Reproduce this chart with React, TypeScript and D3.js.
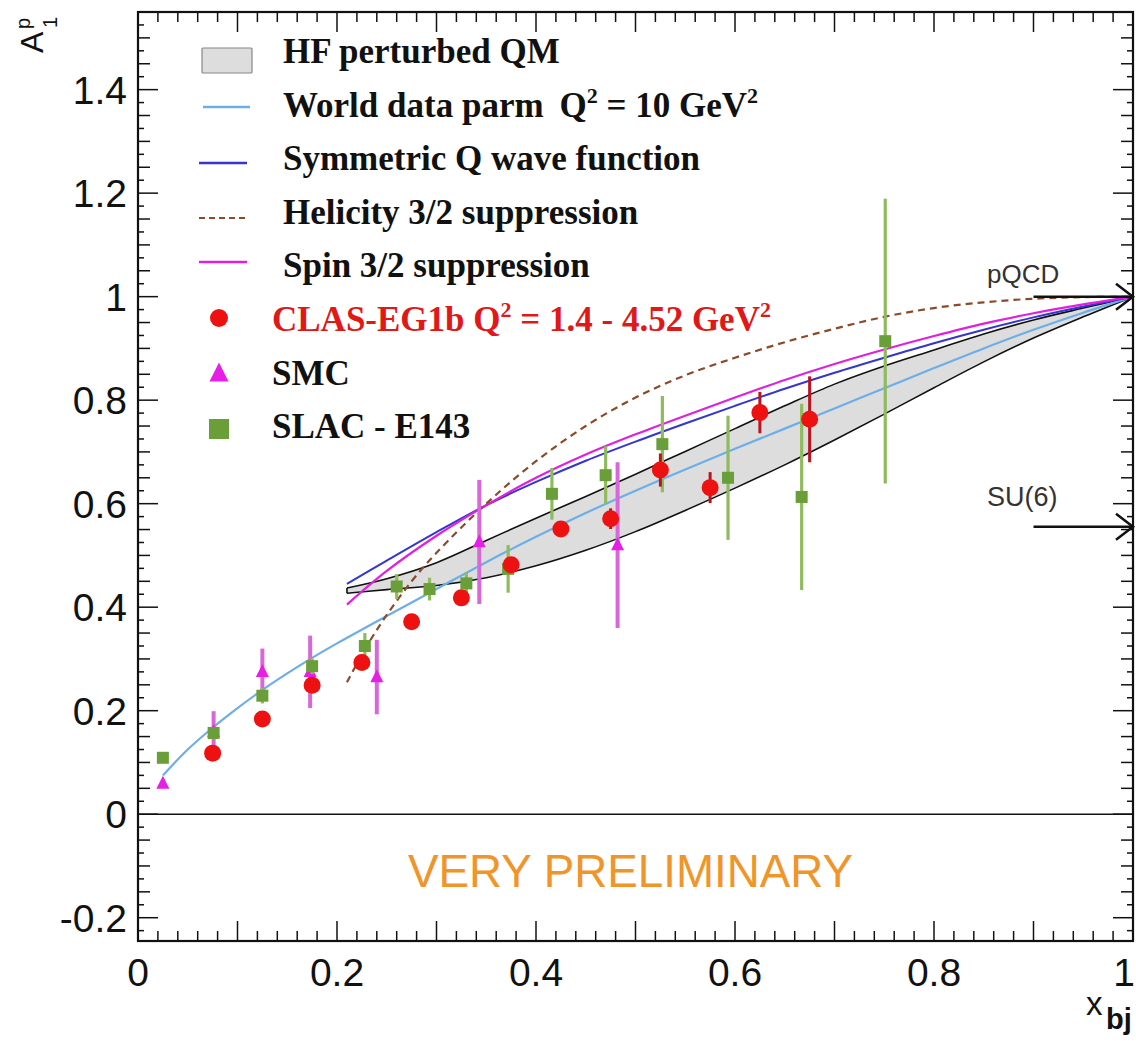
import React from "react";
import * as d3 from "d3";

// ---------- data ----------
const clasX = [0.075, 0.125, 0.175, 0.225, 0.275, 0.325, 0.375, 0.425, 0.475, 0.525, 0.575, 0.625, 0.675];
const clasY = [0.118, 0.184, 0.249, 0.293, 0.372, 0.418, 0.482, 0.551, 0.571, 0.665, 0.631, 0.776, 0.763];
const clasErr = [0.008, 0.008, 0.008, 0.01, 0.01, 0.01, 0.012, 0.015, 0.02, 0.032, 0.03, 0.04, 0.083];

const smcX = [0.025, 0.076, 0.125, 0.173, 0.24, 0.343, 0.482];
const smcY = [0.059, 0.159, 0.275, 0.275, 0.265, 0.526, 0.52];
const smcErr = [0.008, 0.04, 0.045, 0.07, 0.072, 0.12, 0.16];

const slacX = [0.025, 0.076, 0.125, 0.175, 0.228, 0.26, 0.293, 0.33, 0.372, 0.416, 0.47, 0.527, 0.593, 0.667, 0.751];
const slacY = [0.109, 0.157, 0.229, 0.286, 0.325, 0.44, 0.435, 0.446, 0.474, 0.619, 0.655, 0.715, 0.65, 0.613, 0.914];
const slacErr = [0.008, 0.01, 0.015, 0.015, 0.025, 0.024, 0.022, 0.022, 0.046, 0.05, 0.056, 0.093, 0.12, 0.18, 0.275];

const worldX = [0.025, 0.05, 0.075, 0.1, 0.125, 0.15, 0.175, 0.2, 0.25, 0.3, 0.35, 0.4, 0.45, 0.5, 0.55, 0.6, 0.65, 0.7, 0.75, 0.8, 0.85, 0.9, 0.95, 1.0];
const worldY = [0.075, 0.125, 0.167, 0.205, 0.24, 0.272, 0.302, 0.33, 0.383, 0.435, 0.487, 0.536, 0.582, 0.625, 0.666, 0.706, 0.745, 0.784, 0.823, 0.862, 0.9, 0.936, 0.969, 1.0];

const modelX = [0.21, 0.25, 0.3, 0.35, 0.4, 0.45, 0.5, 0.55, 0.6, 0.65, 0.7, 0.75, 0.8, 0.85, 0.9, 0.95, 1.0];
const bandHigh = [0.437, 0.455, 0.486, 0.529, 0.572, 0.614, 0.657, 0.701, 0.745, 0.789, 0.831, 0.866, 0.897, 0.928, 0.955, 0.978, 1.0];
const bandLow = [0.427, 0.434, 0.442, 0.457, 0.48, 0.51, 0.546, 0.587, 0.63, 0.675, 0.723, 0.773, 0.824, 0.874, 0.92, 0.961, 1.0];
const symY = [0.445, 0.49, 0.545, 0.597, 0.642, 0.683, 0.72, 0.755, 0.789, 0.822, 0.853, 0.882, 0.91, 0.936, 0.96, 0.981, 1.0];
const spinY = [0.405, 0.47, 0.538, 0.597, 0.65, 0.695, 0.734, 0.77, 0.805, 0.839, 0.87, 0.898, 0.924, 0.948, 0.968, 0.985, 1.0];

const heliX = [0.21, 0.23, 0.25, 0.275, 0.3, 0.35, 0.4, 0.45, 0.5, 0.55, 0.6, 0.65, 0.7, 0.75, 0.8, 0.85, 0.9, 0.95, 1.0];
const heliY = [0.255, 0.325, 0.385, 0.45, 0.505, 0.6, 0.682, 0.75, 0.805, 0.848, 0.882, 0.912, 0.938, 0.961, 0.978, 0.989, 0.996, 0.999, 1.0];

const pqcdValue = 1.0;
const su6Value = 5 / 9;
const arrowStartX = 0.9;

const xTickLabels = [0, 0.2, 0.4, 0.6, 0.8, 1];
const yTickLabels = [-0.2, 0, 0.2, 0.4, 0.6, 0.8, 1, 1.2, 1.4];

// ---------- colours ----------
const C_WORLD = "#6eaee8";
const C_SYM = "#3535d0";
const C_SPIN = "#e020e0";
const C_HELI = "#8b4a2a";
const C_CLAS = "#ee1111";
const C_CLAS_ERR = "#b81520";
const C_SMC = "#e61ee6";
const C_SMC_ERR = "#d868d8";
const C_SLAC = "#6a9e38";
const C_SLAC_ERR = "#8fbb5c";

const W = 1136;
const H = 1041;

const xScale = d3.scaleLinear().domain([0, 1]).range([138, 1133]);
const yScale = d3.scaleLinear().domain([-0.245, 1.55]).range([941, 12]);

const fmt = (v: number) => String(Math.round(v * 10) / 10);

export default function App() {
  const line = d3
    .line<[number, number]>()
    .x((d) => xScale(d[0]))
    .y((d) => yScale(d[1]))
    .curve(d3.curveCatmullRom.alpha(0.5));
  const area = d3
    .area<number>()
    .x((_, i) => xScale(modelX[i]))
    .y0((_, i) => yScale(bandLow[i]))
    .y1((_, i) => yScale(bandHigh[i]))
    .curve(d3.curveCatmullRom.alpha(0.5));

  const zip = (xs: number[], ys: number[]) => xs.map((x, i) => [x, ys[i]] as [number, number]);

  const left = xScale(0), right = xScale(1), top = yScale(1.55), bottom = yScale(-0.245);

  const xTicks = d3.range(0, 51).map((i) => i / 50);
  const yTicks = d3.range(-9, 63).map((i) => i / 40).filter((v) => v > -0.245 && v < 1.55);
  const isMult = (v: number, step: number) => Math.abs(v / step - Math.round(v / step)) < 1e-6;

  const legendBase = (i: number) => 63 + 53.6 * i;
  const serif = "'Liberation Serif', 'Times New Roman', serif";
  const sans = "'Liberation Sans', Arial, Helvetica, sans-serif";

  const arrow = (v: number, key: string) => {
    const y = yScale(v);
    const x0 = xScale(arrowStartX);
    const x1 = xScale(1);
    return (
      <g key={key} stroke="#111" strokeWidth={2.5} fill="none">
        <line x1={x0} y1={y} x2={x1} y2={y} />
        <polyline points={`${x1 - 17},${y - 13} ${x1},${y} ${x1 - 17},${y + 13}`} />
      </g>
    );
  };

  const tri = (cx: number, cy: number, s: number) =>
    `${cx},${cy - s * 0.6} ${cx - s / 2},${cy + s * 0.4} ${cx + s / 2},${cy + s * 0.4}`;

  return (
    <svg
      width={W}
      height={H}
      style={{ position: "absolute", left: 0, top: 0, background: "#fff" }}
      xmlns="http://www.w3.org/2000/svg"
    >
      <rect x={0} y={0} width={W} height={H} fill="#fff" />

      {/* HF band */}
      <path d={area(modelX) || ""} fill="#dddddd" stroke="none" />
      <path d={line(zip(modelX, bandHigh)) || ""} fill="none" stroke="#111" strokeWidth={1.6} />
      <path d={line(zip(modelX, bandLow)) || ""} fill="none" stroke="#111" strokeWidth={1.6} />
      <line x1={xScale(modelX[0])} x2={xScale(modelX[0])} y1={yScale(bandHigh[0])} y2={yScale(bandLow[0])} stroke="#111" strokeWidth={1.6} />

      {/* model curves */}
      <path d={line(zip(worldX, worldY)) || ""} fill="none" stroke={C_WORLD} strokeWidth={2.2} />
      <path d={line(zip(modelX, symY)) || ""} fill="none" stroke={C_SYM} strokeWidth={2} />
      <path d={line(zip(modelX, spinY)) || ""} fill="none" stroke={C_SPIN} strokeWidth={2.2} />
      <path d={line(zip(heliX, heliY)) || ""} fill="none" stroke={C_HELI} strokeWidth={2.2} strokeDasharray="7 5" />

      {/* zero line */}
      <line x1={left} x2={right} y1={yScale(0)} y2={yScale(0)} stroke="#111" strokeWidth={1.6} />

      {/* SMC */}
      {smcX.map((x, i) => (
        <g key={"smc" + i}>
          <line x1={xScale(x)} x2={xScale(x)} y1={yScale(smcY[i] - smcErr[i])} y2={yScale(smcY[i] + smcErr[i])} stroke={C_SMC_ERR} strokeWidth={4} />
          <polygon points={tri(xScale(x), yScale(smcY[i]), 13)} fill={C_SMC} />
        </g>
      ))}
      {/* SLAC */}
      {slacX.map((x, i) => (
        <g key={"slac" + i}>
          <line x1={xScale(x)} x2={xScale(x)} y1={yScale(slacY[i] - slacErr[i])} y2={yScale(slacY[i] + slacErr[i])} stroke={C_SLAC_ERR} strokeWidth={3.2} />
          <rect x={xScale(x) - 6} y={yScale(slacY[i]) - 6} width={12} height={12} fill={C_SLAC} />
        </g>
      ))}
      {/* CLAS */}
      {clasX.map((x, i) => (
        <g key={"clas" + i}>
          <line x1={xScale(x)} x2={xScale(x)} y1={yScale(clasY[i] - clasErr[i])} y2={yScale(clasY[i] + clasErr[i])} stroke={C_CLAS_ERR} strokeWidth={3} />
          <circle cx={xScale(x)} cy={yScale(clasY[i])} r={8.5} fill={C_CLAS} />
        </g>
      ))}

      {/* arrows */}
      {arrow(pqcdValue, "pqcd")}
      {arrow(su6Value, "su6")}
      <text x={987} y={283} fontFamily={sans} fontSize={26} fill="#333">pQCD</text>
      <text x={987} y={506} fontFamily={sans} fontSize={27} fill="#333">SU(6)</text>

      {/* VERY PRELIMINARY */}
      <text x={408} y={887} fontFamily={sans} fontSize={47} fill="#f0952a" textLength={445} lengthAdjust="spacingAndGlyphs">
        VERY PRELIMINARY
      </text>

      {/* frame */}
      <rect x={left} y={top} width={right - left} height={bottom - top} fill="none" stroke="#111" strokeWidth={2.2} />

      {/* x ticks */}
      {xTicks.map((v, i) => {
        const len = isMult(v, 0.1) ? 20 : 10;
        const x = xScale(v);
        return (
          <g key={"xt" + i} stroke="#111" strokeWidth={1.5}>
            <line x1={x} x2={x} y1={bottom} y2={bottom - len} />
            <line x1={x} x2={x} y1={top} y2={top + len} />
          </g>
        );
      })}
      {/* y ticks */}
      {yTicks.map((v, i) => {
        const len = isMult(v, 0.2) ? 20 : isMult(v, 0.05) ? 12 : 6;
        const y = yScale(v);
        return (
          <g key={"yt" + i} stroke="#111" strokeWidth={1.5}>
            <line x1={left} x2={left + len} y1={y} y2={y} />
            <line x1={right} x2={right - len} y1={y} y2={y} />
          </g>
        );
      })}
      {/* tick labels */}
      {xTickLabels.map((v) => {
        const atEnd = v === 1;
        return (
          <text
            key={"xl" + v}
            x={atEnd ? W - 1 : xScale(v)}
            y={986}
            textAnchor={atEnd ? "end" : "middle"}
            fontFamily={sans}
            fontSize={39}
            fill="#111"
          >
            {fmt(v)}
          </text>
        );
      })}
      {yTickLabels.map((v) => (
        <text key={"yl" + v} x={127} y={yScale(v) + 14} textAnchor="end" fontFamily={sans} fontSize={39} fill="#111">
          {fmt(v)}
        </text>
      ))}

      {/* axis titles */}
      <g fontFamily={sans} fill="#111">
        <text x={1086} y={1015} fontSize={33}>x</text>
        <text x={1106} y={1029} fontSize={29} fontWeight="bold">bj</text>
      </g>
      <g transform="translate(43,53) rotate(-90)" fontFamily={sans} fill="#111">
        <text x={0} y={0} fontSize={32}>A</text>
        <text x={24} y={-13} fontSize={20}>p</text>
        <text x={25} y={14} fontSize={20}>1</text>
      </g>

      {/* legend */}
      <g fontFamily={serif} fontWeight="bold" fontSize={35} fill="#111">
        <rect x={202} y={48} width={50} height={25} fill="#dddddd" stroke="#888" strokeWidth={1.2} rx={1} />
        <text x={283} y={legendBase(0)}>HF perturbed QM</text>

        <line x1={203} x2={250} y1={107} y2={107} stroke={C_WORLD} strokeWidth={2.5} />
        <text x={283} y={legendBase(1)}>
          World data parm
          <tspan dx={16}>Q</tspan>
          <tspan dy={-14} fontSize={22}>2</tspan>
          <tspan dy={14}> = 10 GeV</tspan>
          <tspan dy={-14} fontSize={22}>2</tspan>
        </text>

        <line x1={199} x2={247} y1={163} y2={163} stroke={C_SYM} strokeWidth={2.5} />
        <text x={283} y={legendBase(2)}>Symmetric Q wave function</text>

        <line x1={199} x2={247} y1={218} y2={218} stroke={C_HELI} strokeWidth={2.2} strokeDasharray="6 4" />
        <text x={283} y={legendBase(3)}>Helicity 3/2 suppression</text>

        <line x1={199} x2={247} y1={262} y2={262} stroke={C_SPIN} strokeWidth={2.5} />
        <text x={283} y={legendBase(4)}>Spin 3/2 suppression</text>

        <circle cx={219} cy={318} r={9} fill={C_CLAS} />
        <text x={272} y={legendBase(5)} fill="#e01818">
          CLAS-EG1b Q
          <tspan dy={-14} fontSize={22}>2</tspan>
          <tspan dy={14}> = 1.4 - 4.52 GeV</tspan>
          <tspan dy={-14} fontSize={22}>2</tspan>
        </text>

        <polygon points={tri(219, 374, 19)} fill={C_SMC} />
        <text x={272} y={legendBase(6)}>SMC</text>

        <rect x={209} y={419} width={20} height={20} fill={C_SLAC} />
        <text x={272} y={legendBase(7)}>SLAC - E143</text>
      </g>
    </svg>
  );
}
